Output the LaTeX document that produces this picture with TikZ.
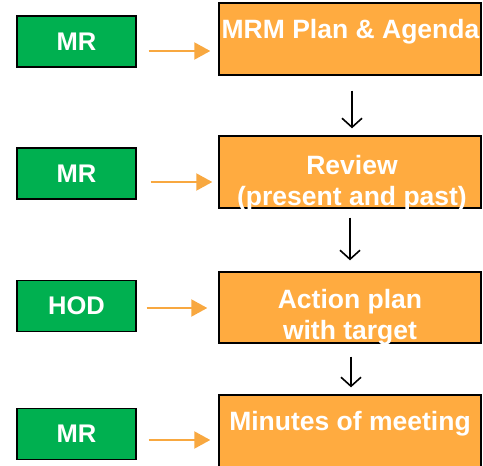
\documentclass[tikz,border=0pt]{standalone}
\usepackage{fontspec}
\setmainfont{Liberation Sans}
\usetikzlibrary{arrows.meta}
\definecolor{gbox}{HTML}{00B050}
\definecolor{obox}{HTML}{FFAB40}
\definecolor{oarr}{HTML}{F8A840}
\tikzset{
  x=1pt,y=1pt,
  greenbox/.style={draw=black,line width=1.4pt,fill=gbox,minimum width=119pt,minimum height=51pt,inner sep=0pt,
    text=white,font=\fontsize{25.5}{28}\selectfont\bfseries},
  orangebox/.style={draw=black,line width=1.4pt,fill=obox,minimum width=262pt,inner sep=0pt},
  boxtext/.style={text=white,font=\fontsize{26.5}{31}\selectfont\bfseries,align=center,inner sep=0pt},
  oarrow/.style={draw=oarr,line width=2pt,-{Triangle[length=16pt,width=17pt]}},
  barrow/.style={draw=black,line width=1.6pt,-{Straight Barb[length=9pt,width=20pt,line width=1.6pt]}}
}
\begin{document}
\begin{tikzpicture}
\useasboundingbox (0,0) rectangle (483,-466);
% green boxes
\node[greenbox] (g1) at (76.5,-41.5) {MR};
\node[greenbox] (g2) at (76.5,-173.5) {MR};
\node[greenbox] (g3) at (76.5,-306) {HOD};
\node[greenbox] (g4) at (76.5,-434) {MR};
% orange boxes
\node[orangebox,minimum height=72pt] (o1) at (350,-39) {};
\node[orangebox,minimum height=72pt] (o2) at (350,-172) {};
\node[orangebox,minimum height=71pt] (o3) at (350,-307.5) {};
\node[orangebox,minimum height=75pt] (o4) at (350,-432.5) {};
% texts
\node[boxtext] (t1) at (350.5,-32) {MRM Plan \& Agenda};
\node[boxtext] (t2) at (352,-183) {Review\\(present and past)};
\node[boxtext] (t3) at (350,-317) {Action plan\\with target};
\node[boxtext] (t4) at (350,-423.5) {Minutes of meeting};
% orange arrows
\draw[oarrow,shorten >=8pt] ([xshift=12pt,yshift=-9.5pt]g1.east) -- ([yshift=-9.5pt]g1.east -| o1.west);
\draw[oarrow,shorten >=6pt] ([xshift=14pt,yshift=-8.5pt]g2.east) -- ([yshift=-8.5pt]g2.east -| o2.west);
\draw[oarrow,shorten >=11pt] ([xshift=10pt,yshift=-2pt]g3.east) -- ([yshift=-2pt]g3.east -| o3.west);
\draw[oarrow,shorten >=8pt] ([xshift=12pt,yshift=-6pt]g4.east) -- ([yshift=-6pt]g4.east -| o4.west);
% black arrows
\draw[barrow,shorten <=15pt,shorten >=7pt] ([xshift=2pt]o1.south) -- ([xshift=2pt]o2.north);
\draw[barrow,shorten <=9pt,shorten >=11pt] (o2.south) -- (o3.north);
\draw[barrow,shorten <=13pt,shorten >=7pt] ([xshift=1pt]o3.south) -- ([xshift=1pt]o4.north);
\end{tikzpicture}
\end{document}
